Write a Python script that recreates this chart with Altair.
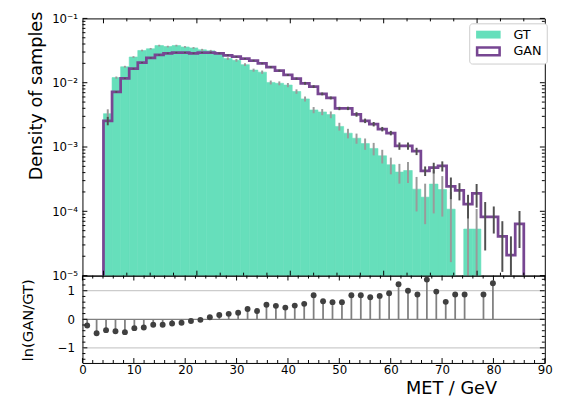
import altair as alt
import numpy as np
import pandas as pd

# ---------------- data ----------------
N_BINS = 49
X_LO, X_HI = 0.0, 90.0

gt_density = [3.30e-3, 1.20e-2, 1.77e-2, 2.51e-2, 3.17e-2, 3.37e-2, 3.78e-2, 3.65e-2, 3.78e-2, 3.60e-2,
              3.48e-2, 3.25e-2, 3.13e-2, 2.82e-2, 2.37e-2, 2.23e-2, 1.91e-2, 1.57e-2, 1.46e-2, 1.01e-2,
              9.8e-3, 9.2e-3, 7.3e-3, 5.6e-3, 3.77e-3, 3.51e-3, 3.19e-3, 2.09e-3, 1.64e-3, 1.37e-3,
              1.13e-3, 9.5e-4, 7.3e-4, 5.3e-4, 4.08e-4, 4.31e-4, 2.21e-4, 1.66e-4, 2.65e-4, 2.18e-4,
              1.08e-4, 0.0, 5.3e-5, 5.3e-5, 0.0, 0.0, 0.0, 0.0, 0.0]
gan_density = [2.56e-3, 7.2e-3, 1.17e-2, 1.65e-2, 2.06e-2, 2.43e-2, 2.70e-2, 2.87e-2, 2.95e-2, 2.95e-2,
               2.87e-2, 2.95e-2, 2.95e-2, 2.87e-2, 2.67e-2, 2.54e-2, 2.37e-2, 2.21e-2, 1.99e-2, 1.75e-2,
               1.54e-2, 1.32e-2, 1.16e-2, 9.8e-3, 8.7e-3, 6.7e-3, 5.8e-3, 3.98e-3, 3.99e-3, 3.22e-3,
               2.56e-3, 2.27e-3, 1.90e-3, 1.65e-3, 1.04e-3, 1.04e-3, 8.6e-4, 4.26e-4, 4.78e-4, 5.07e-4,
               2.45e-4, 2.11e-4, 1.29e-4, 1.90e-4, 8.2e-5, 8.2e-5, 4.08e-5, 2.09e-5, 6.4e-5]
gt_rel_err = [0.17, 0.04, 0.035, 0.03, 0.03, 0.03, 0.03, 0.03, 0.03, 0.03,
              0.03, 0.035, 0.035, 0.04, 0.045, 0.05, 0.05, 0.055, 0.06, 0.07,
              0.07, 0.075, 0.08, 0.09, 0.11, 0.11, 0.12, 0.14, 0.17, 0.18,
              0.20, 0.22, 0.24, 0.29, 0.34, 0.36, 0.55, 0.62, 0.65, 0.62,
              0.85, 0.0, 1.6, 1.05, 0.0, 0.0, 0.0, 0.0, 0.0]
gan_rel_err = [0.15, 0.03, 0.02, 0.02, 0.02, 0.02, 0.02, 0.02, 0.02, 0.02,
               0.02, 0.02, 0.02, 0.02, 0.025, 0.025, 0.025, 0.025, 0.025, 0.035,
               0.035, 0.035, 0.035, 0.05, 0.05, 0.05, 0.05, 0.06, 0.06, 0.08,
               0.08, 0.08, 0.08, 0.08, 0.13, 0.13, 0.13, 0.17, 0.19, 0.18,
               0.37, 0.30, 0.40, 0.40, 0.70, 0.45, 0.72, 0.95, 0.58]
ratio_ln = [-0.22, -0.49, -0.38, -0.42, -0.45, -0.31, -0.29, -0.19, -0.19, -0.15,
            -0.12, -0.06, -0.02, 0.07, 0.15, 0.19, 0.23, 0.36, 0.29, 0.51,
            0.47, 0.41, 0.48, 0.54, 0.84, 0.63, 0.60, 0.60, 0.84, 0.84,
            0.77, 0.82, 0.91, 1.23, 1.00, 0.87, 1.39, 0.97, 0.61, 0.87,
            0.87, None, 0.87, 1.26]

series_names = ["GT", "GAN"]
top_y_ticks = [1e-5, 1e-4, 1e-3, 1e-2, 1e-1]
top_x_major = [0, 20, 40, 60, 80]
top_x_minor = [5, 10, 15, 25, 30, 35, 45, 50, 55, 65, 70, 75, 85, 90]
bot_x_major = [0, 10, 20, 30, 40, 50, 60, 70, 80, 90]
bot_x_minor = [2, 4, 6, 8, 12, 14, 16, 18, 22, 24, 26, 28, 32, 34, 36, 38, 42, 44, 46, 48,
               52, 54, 56, 58, 62, 64, 66, 68, 72, 74, 76, 78, 82, 84, 86, 88]
bot_y_major = [-1, 0, 1]
bot_y_minor = [-1.4, -1.2, -0.8, -0.6, -0.4, -0.2, 0.2, 0.4, 0.6, 0.8, 1.2, 1.4]
bot_grid = [-1, 1]

# ---------------- styling ----------------
GT_COLOR = "#66dfbb"
GAN_COLOR = "#774692"
FONT = "DejaVu Sans"
W = 471
H_TOP = 262
H_BOT = 89
Y_FLOOR = 1e-5
MAJ, MIN = 5, 3
GT_SYMBOL = "M-2.5,-0.8H2.5V0.8H-2.5Z"
GAN_SYMBOL = "M-2.55,-1.05H2.55V1.05H-2.55Z M-2.03,-0.53V0.53H2.03V-0.53Z"

# ---------------- tables ----------------
edges = np.linspace(X_LO, X_HI, N_BINS + 1)
lo_e, hi_e = edges[:-1], edges[1:]
cent = 0.5 * (lo_e + hi_e)
gt = np.array(gt_density)
gan = np.array(gan_density)

gt_df = pd.DataFrame({"lo": lo_e, "hi": hi_e, "v": gt})
gt_df = gt_df[gt_df.v > 0]

pts_x, pts_y = [X_LO], [Y_FLOOR]
for a, b, v in zip(lo_e, hi_e, gan):
    pts_x += [a, b]
    pts_y += [v, v]
pts_x.append(X_HI)
pts_y.append(Y_FLOOR)
gan_df = pd.DataFrame({"x": pts_x, "v": pts_y, "idx": range(len(pts_x))})


def err_table(vals, rel):
    vals = np.array(vals)
    s = vals * np.array(rel)
    lo = np.where(vals - s > Y_FLOOR, vals - s, Y_FLOOR)
    df = pd.DataFrame({"c": cent, "lo": lo, "hi": vals + s, "v": vals})
    return df[df.v > 0]


gt_err = err_table(gt_density, gt_rel_err)
gan_err = err_table(gan_density, gan_rel_err)

ratio_df = pd.DataFrame({"c": cent[:len(ratio_ln)], "r": ratio_ln}).dropna()
legend_df = pd.DataFrame({"series": series_names, "x": [40.0, 40.0], "v": [1e-3, 1e-3]})

# ---------------- scales & axes ----------------
xs_top = alt.Scale(domain=[-4.5, 94.5], nice=False, zero=False)
ys_top = alt.Scale(type="log", domain=[1e-5, 1e-1], nice=False)
xs_bot = alt.Scale(domain=[0, 90], nice=False, zero=False)
ys_bot = alt.Scale(domain=[-1.53, 1.53], nice=False, zero=False)
color_scale = alt.Scale(domain=series_names, range=[GT_COLOR, GAN_COLOR])
shape_scale = alt.Scale(domain=series_names, range=[GT_SYMBOL, GAN_SYMBOL])

label_expr = ("datum.value > 0.05 ? '10⁻¹' : datum.value > 0.005 ? '10⁻²' : "
              "datum.value > 0.0005 ? '10⁻³' : datum.value > 0.00005 ? '10⁻⁴' : '10⁻⁵'")

common_axis = dict(ticks=False, domain=False, grid=False, labelFont=FONT, labelFontSize=12,
                   labelColor="black", labelFlush=False, labelOverlap=False,
                   titleFont=FONT, titleFontWeight="normal", titleColor="black")

AX_TOP_Y = alt.Axis(
    values=top_y_ticks, labelExpr=label_expr, labelPadding=5,
    title="Density of samples", titleFontSize=18, titleX=-46.5, titleY=78.5,
    titleAlign="center", titleBaseline="middle", titleAngle=270, **common_axis)
AX_BOT_Y = alt.Axis(
    values=bot_y_major, labelPadding=8,
    title="ln(GAN/GT)", titleFontSize=15, titleX=-56, titleY=45,
    titleAlign="center", titleBaseline="middle", titleAngle=270, **common_axis)
AX_BOT_X = alt.Axis(
    values=bot_x_major, labelPadding=2, format="d",
    title="MET / GeV", titleFontSize=18, titleX=375.5, titleY=31,
    titleAlign="center", titleBaseline="alphabetic", **common_axis)

legend = alt.Legend(
    title=None, orient="none", legendX=394, legendY=5,
    symbolSize=100, symbolOpacity=1, symbolStrokeWidth=0,
    symbolOffset=8, labelOffset=19, rowPadding=3,
    labelFont=FONT, labelFontSize=13, labelColor="black",
    padding=5, strokeColor="#cccccc", fillColor="white", cornerRadius=3,
)


def TX(field):
    return alt.X(field, scale=xs_top, axis=None)


def TY(field):
    return alt.Y(field, scale=ys_top, axis=AX_TOP_Y)


def BX(field):
    return alt.X(field, scale=xs_bot, axis=AX_BOT_X)


def BY(field):
    return alt.Y(field, scale=ys_bot, axis=AX_BOT_Y)


# ---------------- top panel ----------------
gt_bars = alt.Chart(gt_df).mark_rect(color=GT_COLOR, stroke=GT_COLOR, strokeWidth=0.6).encode(
    x=TX("lo:Q"), x2="hi:Q", y=TY("v:Q"), y2=alt.Y2(datum=Y_FLOOR))

gt_errs = alt.Chart(gt_err).mark_rule(color="#9a9a9a", strokeWidth=2).encode(
    x=TX("c:Q"), y=TY("lo:Q"), y2="hi:Q")

gan_line = alt.Chart(gan_df).mark_line(color=GAN_COLOR, strokeWidth=2.8, strokeJoin="miter",
                                       clip=True).encode(
    x=TX("x:Q"), y=TY("v:Q"), order="idx:Q")

gan_errs = alt.Chart(gan_err).mark_rule(color="#505050", strokeWidth=2).encode(
    x=TX("c:Q"), y=TY("lo:Q"), y2="hi:Q")

legend_carrier = alt.Chart(legend_df).mark_point(filled=True, opacity=0, size=1).encode(
    x=TX("x:Q"), y=TY("v:Q"),
    color=alt.Color("series:N", scale=color_scale, legend=legend),
    shape=alt.Shape("series:N", scale=shape_scale, legend=legend),
)


def yticks(vals, yenc, length, side, width):
    df = pd.DataFrame({"t": vals})
    if side == "left":
        xa, xb = 0, length
    else:
        xa, xb = width - length, width
    return alt.Chart(df).mark_rule(color="black", strokeWidth=1).encode(
        y=yenc("t:Q"), x=alt.value(xa), x2=alt.value(xb))


def xticks(vals, xenc, length, side, height):
    df = pd.DataFrame({"t": vals})
    if side == "top":
        ya, yb = 0, length
    else:
        ya, yb = height - length, height
    return alt.Chart(df).mark_rule(color="black", strokeWidth=1).encode(
        x=xenc("t:Q"), y=alt.value(ya), y2=alt.value(yb))


top_minor_y = [k * 10.0 ** d for d in range(-5, -1) for k in range(2, 10)]
top_ticks = [
    yticks(top_y_ticks, TY, MAJ, "left", W), yticks(top_y_ticks, TY, MAJ, "right", W),
    yticks(top_minor_y, TY, MIN, "left", W), yticks(top_minor_y, TY, MIN, "right", W),
    xticks(top_x_major, TX, MAJ, "top", H_TOP), xticks(top_x_major, TX, MAJ, "bottom", H_TOP),
    xticks(top_x_minor, TX, MIN, "top", H_TOP), xticks(top_x_minor, TX, MIN, "bottom", H_TOP),
]

top = alt.layer(gt_bars, gt_errs, gan_line, gan_errs, legend_carrier, *top_ticks).properties(
    width=W, height=H_TOP)

# ---------------- bottom panel ----------------
grid = alt.Chart(pd.DataFrame({"g": bot_grid})).mark_rule(color="#cccccc", strokeWidth=1.3).encode(
    y=BY("g:Q"))
zero = alt.Chart(pd.DataFrame({"g": [0]})).mark_rule(color="#808080", strokeWidth=1.3).encode(
    y=BY("g:Q"))
stems = alt.Chart(ratio_df).mark_rule(color="#808080", strokeWidth=1.8).encode(
    x=BX("c:Q"), y=BY("r:Q"), y2=alt.Y2(datum=0))
dots = alt.Chart(ratio_df).mark_circle(size=36, color="#404040", opacity=1).encode(
    x=BX("c:Q"), y=BY("r:Q"))
bot_ticks = [
    yticks(bot_y_major, BY, MAJ, "left", W), yticks(bot_y_major, BY, MAJ, "right", W),
    yticks(bot_y_minor, BY, MIN, "left", W), yticks(bot_y_minor, BY, MIN, "right", W),
    xticks(bot_x_major, BX, MAJ, "top", H_BOT), xticks(bot_x_major, BX, MAJ, "bottom", H_BOT),
    xticks(bot_x_minor, BX, MIN, "top", H_BOT), xticks(bot_x_minor, BX, MIN, "bottom", H_BOT),
]
bottom = alt.layer(grid, zero, stems, dots, *bot_ticks).properties(width=W, height=H_BOT)

chart = alt.vconcat(top, bottom, spacing=0, bounds="flush").resolve_scale(
    x="independent", y="independent", color="independent", shape="independent"
).properties(
    padding={"left": 20, "top": 6, "right": 35, "bottom": 0},
    background="white",
).configure_view(
    stroke="black", strokeWidth=1
)

chart.save("out.html", embed_options={"renderer": "svg", "actions": False})
